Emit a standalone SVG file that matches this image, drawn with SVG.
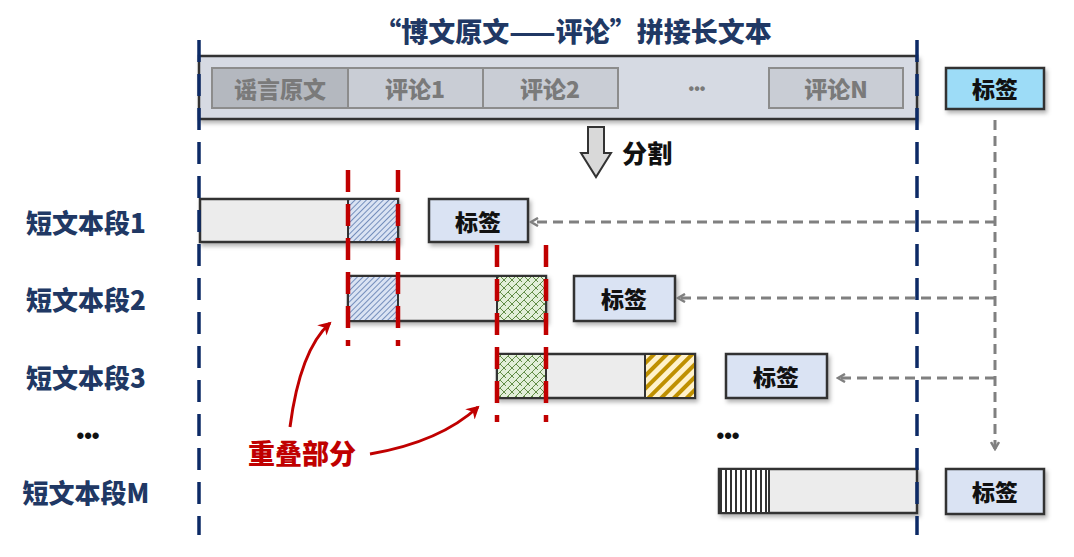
<svg xmlns="http://www.w3.org/2000/svg" width="1074" height="557" viewBox="0 0 1074 557">
<defs>
<filter id="sh" x="-10%" y="-20%" width="130%" height="160%">
<feDropShadow dx="2" dy="3" stdDeviation="2" flood-color="#000" flood-opacity="0.3"/>
</filter>
<pattern id="pBlue" width="4" height="4" patternUnits="userSpaceOnUse" patternTransform="rotate(45)">
<rect width="4" height="4" fill="#dae3f3"/>
<line x1="0" y1="0" x2="0" y2="4" stroke="#2f5597" stroke-width="1.2"/>
</pattern>
<pattern id="pGreen" width="8" height="8" patternUnits="userSpaceOnUse">
<rect width="8" height="8" fill="#e2efd9"/>
<path d="M0,8 L4,4 L8,8 M4,4 L8,0 M0,0 L2,2" stroke="#548235" stroke-width="0.9" fill="none"/>
</pattern>
<pattern id="pGold" width="9" height="9" patternUnits="userSpaceOnUse" patternTransform="rotate(45)">
<rect width="9" height="9" fill="#fff2cc"/>
<rect x="0" y="0" width="4" height="9" fill="#bf9000"/>
</pattern>
<pattern id="pVert" width="5" height="10" patternUnits="userSpaceOnUse">
<rect width="5" height="10" fill="#fff"/>
<rect x="0" y="0" width="2" height="10" fill="#333"/>
</pattern>
<marker id="ag" markerWidth="10" markerHeight="10" refX="8" refY="5" orient="auto" markerUnits="userSpaceOnUse">
<path d="M1,1 L8,5 L1,9" fill="none" stroke="#808080" stroke-width="2.5"/>
</marker>
<marker id="ar" markerWidth="14" markerHeight="14" refX="11" refY="7" orient="auto" markerUnits="userSpaceOnUse">
<path d="M0,0 L13,7 L0,14 L4,7 Z" fill="#c00000"/>
</marker>
</defs>
<style>
text{font-family:"Noto Sans CJK SC","Liberation Sans",sans-serif;font-weight:900;text-anchor:middle;dominant-baseline:central}
.title{font-size:27px;fill:#203864}
.cell{fill:#c9cdd5;stroke:#8c8c8c;stroke-width:2}
.celltxt{font-size:23px;fill:#7a7a7a}
.row{font-size:26px;fill:#203864}
.dots{font-family:"Liberation Sans",sans-serif;font-size:22px;font-weight:bold;fill:#111}
.tag{fill:#dae3f3;stroke:#333;stroke-width:2.5}
.tagtxt{font-size:23px;fill:#111}
.seg{fill:#ececec;stroke:#333;stroke-width:2.5}
.hs{stroke:#333;stroke-width:2}
.navy{stroke:#0c2a66;stroke-width:3.5;stroke-dasharray:22 12;fill:none}
.red{stroke:#c00000;stroke-width:4.5;stroke-dasharray:22 12;fill:none}
.gray{stroke:#808080;stroke-width:3;stroke-dasharray:10 6;fill:none}
.redarrow{stroke:#c00000;stroke-width:3;fill:none}
</style>

<g id="title">
<text class="title" x="573" y="30">“博文原文——评论”拼接长文本</text>
</g>

<g id="long-text">
<rect x="199" y="56" width="718" height="63" fill="#d6dae3" stroke="#333" stroke-width="2.5" filter="url(#sh)"/>
<rect x="212" y="68" width="136" height="40" fill="#b4b8bf" stroke="#8c8c8c" stroke-width="2"/>
<text class="celltxt" x="280" y="88">谣言原文</text>
<rect class="cell" x="348" y="68" width="135" height="40"/>
<text class="celltxt" x="415" y="88">评论1</text>
<rect class="cell" x="483" y="68" width="135" height="40"/>
<text class="celltxt" x="550" y="88">评论2</text>
<text class="dots" x="697" y="88" style="fill:#7a7a7a;font-size:16px">•••</text>
<rect class="cell" x="769" y="68" width="134" height="40"/>
<text class="celltxt" x="836" y="88">评论N</text>
</g>

<g id="tag-top">
<rect x="946" y="68" width="98" height="41" fill="#9ddcf7" stroke="#333" stroke-width="2.5" filter="url(#sh)"/>
<text class="tagtxt" x="995" y="88">标签</text>
</g>

<g id="split">
<path d="M588,127 L604,127 L604,153 L611,153 L596,177 L581,153 L588,153 Z" fill="#d9d9d9" stroke="#333" stroke-width="2"/>
<text class="tagtxt" x="647" y="152" style="font-size:25px">分割</text>
</g>

<g id="labels">
<text class="row" x="86" y="221">短文本段1</text>
<text class="row" x="86" y="298">短文本段2</text>
<text class="row" x="86" y="376">短文本段3</text>
<text class="dots" x="88" y="435">•••</text>
<text class="row" x="86" y="491">短文本段M</text>
</g>

<g id="seg1" filter="url(#sh)">
<rect class="seg" x="200" y="199" width="198" height="43"/>
<rect class="hs" x="348" y="199" width="50" height="43" fill="url(#pBlue)"/>
</g>
<g id="tag1">
<rect class="tag" x="429" y="199" width="99" height="43" filter="url(#sh)"/>
<text class="tagtxt" x="478" y="221">标签</text>
</g>

<g id="seg2" filter="url(#sh)">
<rect class="seg" x="348" y="276" width="198" height="45"/>
<rect class="hs" x="348" y="276" width="50" height="45" fill="url(#pBlue)"/>
<rect class="hs" x="497" y="276" width="49" height="45" fill="url(#pGreen)"/>
</g>
<g id="tag2">
<rect class="tag" x="574" y="276" width="101" height="45" filter="url(#sh)"/>
<text class="tagtxt" x="624" y="298">标签</text>
</g>

<g id="seg3" filter="url(#sh)">
<rect class="seg" x="497" y="354" width="198" height="44"/>
<rect class="hs" x="497" y="354" width="49" height="44" fill="url(#pGreen)"/>
<rect class="hs" x="645" y="354" width="50" height="44" fill="url(#pGold)"/>
</g>
<g id="tag3">
<rect class="tag" x="726" y="354" width="101" height="44" filter="url(#sh)"/>
<text class="tagtxt" x="776" y="376">标签</text>
</g>

<g id="dots2">
<text class="dots" x="728" y="435">•••</text>
</g>

<g id="segM" filter="url(#sh)">
<rect class="seg" x="719" y="469" width="198" height="44"/>
<rect class="hs" x="719" y="469" width="50" height="44" fill="url(#pVert)"/>
</g>
<g id="tagM">
<rect class="tag" x="946" y="469" width="98" height="45" filter="url(#sh)"/>
<text class="tagtxt" x="995" y="491">标签</text>
</g>

<g id="overlap-label">
<text x="302" y="452" style="font-size:27px;fill:#c00000">重叠部分</text>
</g>

<g id="connectors">
<line class="navy" x1="199" y1="40" x2="199" y2="535"/>
<line class="navy" x1="917" y1="40" x2="917" y2="535"/>
<line class="red" x1="348" y1="170" x2="348" y2="346"/>
<line class="red" x1="398" y1="170" x2="398" y2="346"/>
<line class="red" x1="497" y1="245" x2="497" y2="422"/>
<line class="red" x1="546" y1="245" x2="546" y2="422"/>
<path class="gray" d="M995,120 L995,449" marker-end="url(#ag)"/>
<path class="gray" d="M995,222 L531,222" marker-end="url(#ag)"/>
<path class="gray" d="M995,298 L678,298" marker-end="url(#ag)"/>
<path class="gray" d="M995,378 L838,378" marker-end="url(#ag)"/>
<path class="redarrow" d="M290,427 Q300,350 330,323" marker-end="url(#ar)"/>
<path class="redarrow" d="M370,454 Q440,442 478,407" marker-end="url(#ar)"/>
</g>
</svg>
